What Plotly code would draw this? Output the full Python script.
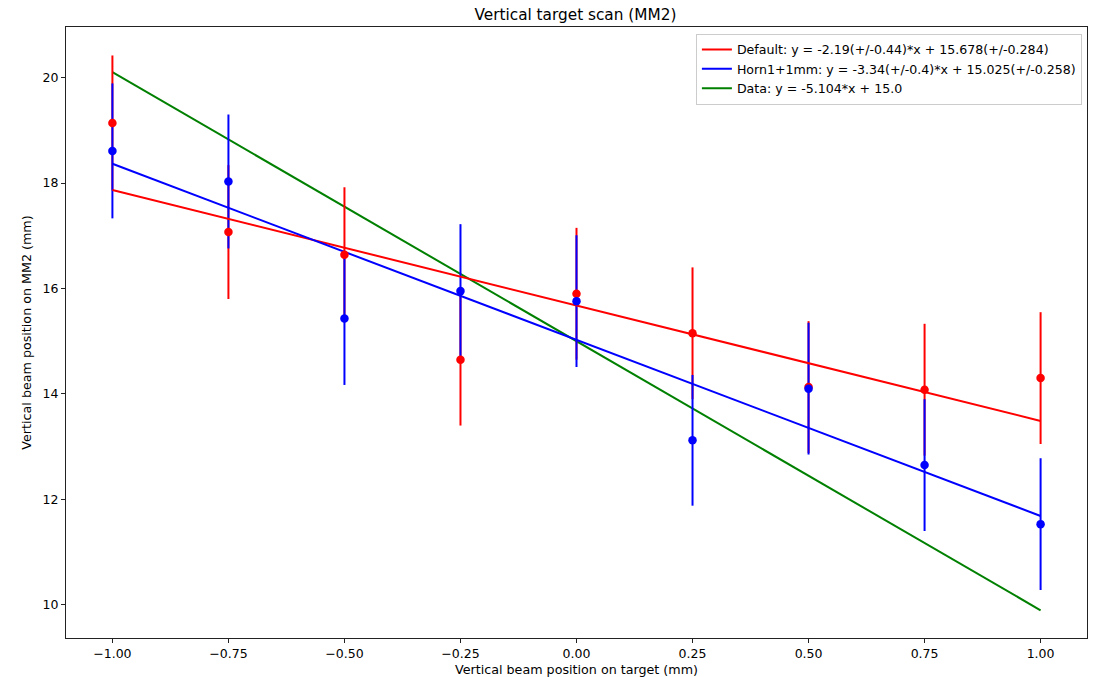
import plotly.graph_objects as go

# ---- data ----
x_pos = [-1.0, -0.75, -0.5, -0.25, 0.0, 0.25, 0.5, 0.75, 1.0]

default_y = [19.14, 17.07, 16.64, 14.65, 15.90, 15.15, 14.13, 14.08, 14.30]
default_err = [1.28, 1.27, 1.28, 1.25, 1.25, 1.25, 1.25, 1.25, 1.25]

horn_y = [18.61, 18.03, 15.43, 15.95, 15.76, 13.12, 14.10, 12.65, 11.53]
horn_err = [1.28, 1.27, 1.26, 1.27, 1.25, 1.24, 1.25, 1.25, 1.25]

# fitted lines, values at each x position (from the legend equations)
default_fit = [17.868, 17.3205, 16.773, 16.2255, 15.678, 15.1305, 14.583, 14.0355, 13.488]
horn_fit = [18.365, 17.53, 16.695, 15.86, 15.025, 14.19, 13.355, 12.52, 11.685]
data_fit = [20.104, 18.828, 17.552, 16.276, 15.0, 13.724, 12.448, 11.172, 9.896]

labels = [
    "Default: y = -2.19(+/-0.44)*x + 15.678(+/-0.284)",
    "Horn1+1mm: y = -3.34(+/-0.4)*x + 15.025(+/-0.258)",
    "Data: y = -5.104*x + 15.0",
]

x_ticks = [-1.0, -0.75, -0.5, -0.25, 0.0, 0.25, 0.5, 0.75, 1.0]
x_ticktext = ["\u22121.00", "\u22120.75", "\u22120.50", "\u22120.25", "0.00", "0.25", "0.50", "0.75", "1.00"]
y_ticks = [10, 12, 14, 16, 18, 20]

FONT = "DejaVu Sans"
RED = "#ff0000"
BLUE = "#0000ff"
GREEN = "#008000"

fig = go.Figure()

# green fit line (bottom-most)
fig.add_trace(go.Scatter(x=x_pos, y=data_fit, mode="lines", name=labels[2],
                         line=dict(color=GREEN, width=2), legendrank=3))

# error bars (no markers visible)
fig.add_trace(go.Scatter(x=x_pos, y=default_y, mode="markers", showlegend=False,
                         marker=dict(size=1, color="rgba(0,0,0,0)"),
                         error_y=dict(type="data", array=default_err, color=RED,
                                      thickness=2, width=0), hoverinfo="skip"))
fig.add_trace(go.Scatter(x=x_pos, y=horn_y, mode="markers", showlegend=False,
                         marker=dict(size=1, color="rgba(0,0,0,0)"),
                         error_y=dict(type="data", array=horn_err, color=BLUE,
                                      thickness=2, width=0), hoverinfo="skip"))

# red and blue fit lines
fig.add_trace(go.Scatter(x=x_pos, y=default_fit, mode="lines", name=labels[0],
                         line=dict(color=RED, width=2), legendrank=1))
fig.add_trace(go.Scatter(x=x_pos, y=horn_fit, mode="lines", name=labels[1],
                         line=dict(color=BLUE, width=2), legendrank=2))

# markers
fig.add_trace(go.Scatter(x=x_pos, y=default_y, mode="markers", showlegend=False,
                         marker=dict(size=8.5, color=RED, line=dict(width=0))))
fig.add_trace(go.Scatter(x=x_pos, y=horn_y, mode="markers", showlegend=False,
                         marker=dict(size=8.5, color=BLUE, line=dict(width=0))))

fig.update_layout(
    width=1094, height=677,
    margin=dict(l=66, r=7, t=27, b=39, autoexpand=False),
    paper_bgcolor="white", plot_bgcolor="white",
    font=dict(family=FONT, size=12.5, color="black"),
    title=dict(text="Vertical target scan (MM2)", x=0.526, xanchor="center",
               y=1 - 15 / 677, yref="container", yanchor="middle",
               font=dict(family=FONT, size=15.3, color="black")),
    showlegend=True,
    legend=dict(x=0.995, xanchor="right", y=0.989, yanchor="top",
                bgcolor="rgba(255,255,255,0.8)", bordercolor="#cccccc", borderwidth=1,
                font=dict(family=FONT, size=12.6, color="black"),
                tracegroupgap=0, itemwidth=30),
    xaxis=dict(range=[-1.1, 1.1], tickvals=x_ticks, ticktext=x_ticktext,
               showgrid=False, zeroline=False, showline=True, linecolor="#222222",
               linewidth=1, mirror=True, ticks="outside", ticklen=4, tickcolor="#222222",
               tickfont=dict(family=FONT, size=12.5, color="black"),
               title=dict(text="Vertical beam position on target (mm)", standoff=5,
                          font=dict(family=FONT, size=12.7, color="black"))),
    yaxis=dict(range=[9.37, 20.96], tickvals=y_ticks,
               showgrid=False, zeroline=False, showline=True, linecolor="#222222",
               linewidth=1, mirror=True, ticks="outside", ticklen=4, tickcolor="#222222",
               tickfont=dict(family=FONT, size=12.5, color="black"),
               title=dict(text="Vertical beam position on MM2 (mm)", standoff=8,
                          font=dict(family=FONT, size=12.7, color="black"))),
)

fig.write_html("out.html", config={"displayModeBar": False})

# remove the browser's default page margin so the figure fills the window exactly
with open("out.html", "r", encoding="utf-8") as f:
    html = f.read()
html = html.replace("<head>", "<head><style>html,body{margin:0;padding:0;overflow:hidden;}</style>", 1)
with open("out.html", "w", encoding="utf-8") as f:
    f.write(html)
